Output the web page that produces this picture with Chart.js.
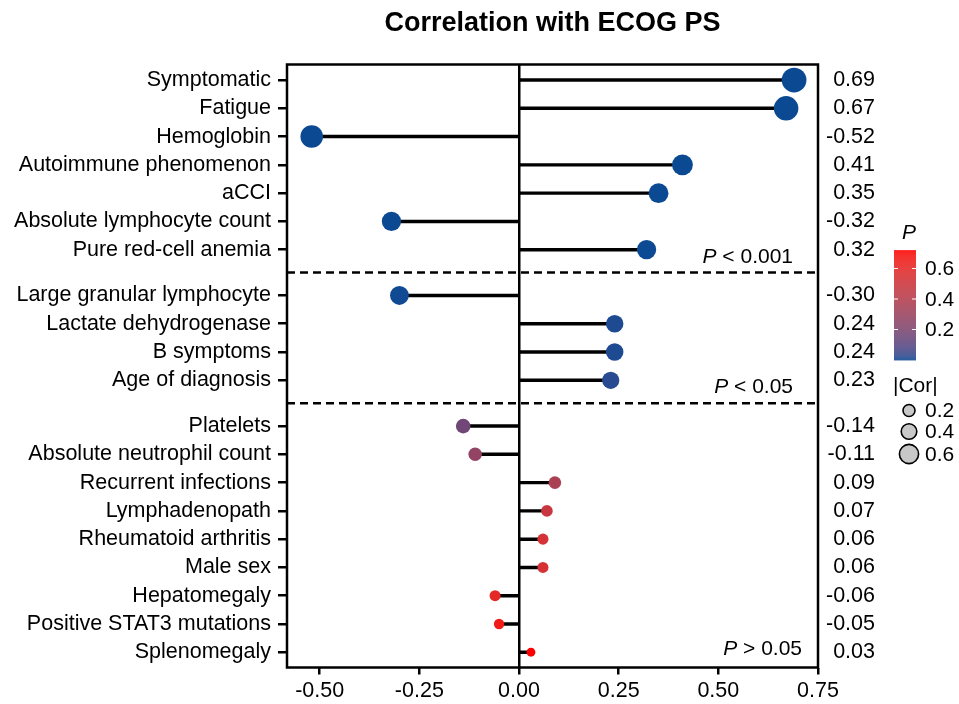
<!DOCTYPE html>
<html lang="en">
<head>
    <meta charset="UTF-8">
    <title>Correlation with ECOG PS</title>
    <style>
        body { margin: 0; padding: 0; background: #fff; }
        #wrap { width: 959px; height: 704px; position: relative; }
    </style>
    <script src="https://cdn.jsdelivr.net/npm/chart.js"></script>
</head>
<body>
    <div id="wrap"><canvas id="lollipop"></canvas></div>

    <script>
        // data
        const labels = [
            'Symptomatic', 'Fatigue', 'Hemoglobin', 'Autoimmune phenomenon', 'aCCI',
            'Absolute lymphocyte count', 'Pure red-cell anemia',
            'Large granular lymphocyte', 'Lactate dehydrogenase', 'B symptoms', 'Age of diagnosis',
            'Platelets', 'Absolute neutrophil count', 'Recurrent infections', 'Lymphadenopath',
            'Rheumatoid arthritis', 'Male sex', 'Hepatomegaly', 'Positive STAT3 mutations', 'Splenomegaly'
        ];
        const cors = [0.69, 0.67, -0.52, 0.41, 0.35, -0.32, 0.32,
                      -0.30, 0.24, 0.24, 0.23,
                      -0.14, -0.11, 0.09, 0.07, 0.06, 0.06, -0.06, -0.05, 0.03];
        const pvals = [0, 0, 0, 0, 0, 0, 0.0005,
                       0.002, 0.01, 0.01, 0.02,
                       0.16, 0.27, 0.36, 0.48, 0.53, 0.54, 0.60, 0.66, 0.72];
        const groups = [0, 0, 0, 0, 0, 0, 0, 1, 1, 1, 1, 2, 2, 2, 2, 2, 2, 2, 2, 2];
        const groupNames = ['< 0.001', '< 0.05', '> 0.05'];
        const xTicks = [-0.5, -0.25, 0, 0.25, 0.5, 0.75];
        const pTicks = [0.2, 0.4, 0.6];
        const corTicks = [0.2, 0.4, 0.6];

        const GROUP_GAP = 0.62;
        const FONT = "'Liberation Sans', Arial, sans-serif";
        const LOW = '#0b4a93', HIGH = '#ff0000';

        // row positions on the y scale, with a gap between significance groups
        const rowPos = labels.map((_, i) => i + groups[i] * GROUP_GAP);
        const pMax = Math.max(...pvals);

        // --- colour ramp in CIELAB (like ggplot's gradient) ---
        function hexToRgb(h) {
            return [1, 3, 5].map(k => parseInt(h.slice(k, k + 2), 16));
        }
        function toLab(rgb) {
            const l = rgb.map(c => { c /= 255; return c <= 0.04045 ? c / 12.92 : Math.pow((c + 0.055) / 1.055, 2.4); });
            const X = (0.4124 * l[0] + 0.3576 * l[1] + 0.1805 * l[2]) / 0.95047;
            const Y = 0.2126 * l[0] + 0.7152 * l[1] + 0.0722 * l[2];
            const Z = (0.0193 * l[0] + 0.1192 * l[1] + 0.9505 * l[2]) / 1.08883;
            const f = t => t > 0.008856 ? Math.cbrt(t) : 7.787 * t + 16 / 116;
            return [116 * f(Y) - 16, 500 * (f(X) - f(Y)), 200 * (f(Y) - f(Z))];
        }
        function fromLab(lab) {
            const fy = (lab[0] + 16) / 116, fx = fy + lab[1] / 500, fz = fy - lab[2] / 200;
            const inv = t => t * t * t > 0.008856 ? t * t * t : (t - 16 / 116) / 7.787;
            const X = inv(fx) * 0.95047, Y = inv(fy), Z = inv(fz) * 1.08883;
            const lin = [
                3.2406 * X - 1.5372 * Y - 0.4986 * Z,
                -0.9689 * X + 1.8758 * Y + 0.0415 * Z,
                0.0557 * X - 0.2040 * Y + 1.0570 * Z
            ];
            const rgb = lin.map(c => {
                c = c <= 0.0031308 ? 12.92 * c : 1.055 * Math.pow(c, 1 / 2.4) - 0.055;
                return Math.round(Math.min(1, Math.max(0, c)) * 255);
            });
            return `rgb(${rgb[0]}, ${rgb[1]}, ${rgb[2]})`;
        }
        const labLow = toLab(hexToRgb(LOW)), labHigh = toLab(hexToRgb(HIGH));
        function pColor(p) {
            const t = Math.min(1, Math.max(0, p / pMax));
            return fromLab(labLow.map((v, k) => v + (labHigh[k] - v) * t));
        }
        function dotRadius(c) {
            return 14 * Math.pow(Math.abs(c), 0.33);
        }

        const decor = {
            id: 'decor',
            beforeDatasetsDraw(chart) {
                const { ctx, chartArea: a, scales: { y } } = chart;
                ctx.save();
                ctx.strokeStyle = '#000';
                ctx.lineWidth = 2.5;
                ctx.setLineDash([8, 5]);
                for (let i = 1; i < labels.length; i++) {
                    if (groups[i] !== groups[i - 1]) {
                        const py = y.getPixelForValue((rowPos[i] + rowPos[i - 1]) / 2);
                        ctx.beginPath();
                        ctx.moveTo(a.left, py);
                        ctx.lineTo(a.right, py);
                        ctx.stroke();
                    }
                }
                ctx.restore();
            },
            afterDraw(chart) {
                const { ctx, chartArea: a, scales: { y } } = chart;
                ctx.save();
                // frame
                ctx.strokeStyle = '#000';
                ctx.lineWidth = 2.5;
                ctx.strokeRect(a.left, a.top, a.right - a.left, a.bottom - a.top);

                // title
                ctx.fillStyle = '#000';
                ctx.font = `bold 27px ${FONT}`;
                ctx.textAlign = 'center';
                ctx.textBaseline = 'middle';
                ctx.fillText('Correlation with ECOG PS', (a.left + a.right) / 2, 24);

                // group annotations (italic P)
                ctx.font = `21px ${FONT}`;
                ctx.textBaseline = 'middle';
                [0, 1, 2].forEach(g => {
                    const last = groups.lastIndexOf(g);
                    const right = g === 2 ? a.right - 16 : a.right - 25;
                    const py = y.getPixelForValue(rowPos[last] + (g === 2 ? -0.1 : 0.26));
                    const rest = ' ' + groupNames[g];
                    ctx.textAlign = 'right';
                    ctx.font = `21px ${FONT}`;
                    const w = ctx.measureText(rest).width;
                    ctx.fillText(rest, right, py);
                    ctx.font = `italic 21px ${FONT}`;
                    ctx.fillText('P', right - w, py);
                });

                // colour bar legend
                const bx = 894, bw = 22, bBottom = 360, pxPerUnit = 152.5;
                const bTop = bBottom - pMax * pxPerUnit;
                for (let py = bTop; py < bBottom; py += 1) {
                    ctx.fillStyle = pColor((bBottom - py - 0.5) / pxPerUnit);
                    ctx.fillRect(bx, py, bw, 1.2);
                }
                ctx.strokeStyle = '#fff';
                ctx.lineWidth = 1;
                ctx.fillStyle = '#000';
                ctx.textAlign = 'left';
                ctx.font = `21px ${FONT}`;
                pTicks.forEach(t => {
                    const py = bBottom - t * pxPerUnit;
                    ctx.beginPath();
                    ctx.moveTo(bx, py); ctx.lineTo(bx + 4, py);
                    ctx.moveTo(bx + bw - 4, py); ctx.lineTo(bx + bw, py);
                    ctx.stroke();
                    ctx.fillText(t.toFixed(1), 925, py + 1);
                });
                ctx.font = `italic 21px ${FONT}`;
                ctx.textAlign = 'center';
                ctx.fillText('P', bx + 15, 233);

                // size legend
                ctx.font = `21px ${FONT}`;
                ctx.textAlign = 'left';
                ctx.fillText('|Cor|', 893, 386);
                const cy = [410.5, 431.5, 454];
                corTicks.forEach((t, k) => {
                    ctx.beginPath();
                    ctx.arc(909, cy[k], 4.2 + 9 * t, 0, Math.PI * 2);
                    ctx.fillStyle = '#c8c8c8';
                    ctx.fill();
                    ctx.lineWidth = 1.6;
                    ctx.strokeStyle = '#000';
                    ctx.stroke();
                    ctx.fillStyle = '#000';
                    ctx.fillText(t.toFixed(1), 925, cy[k] + 1);
                });
                ctx.restore();
            }
        };

        const tickFont = { family: FONT, size: 21.5 };
        const rowTicks = axis => { axis.ticks = rowPos.map(v => ({ value: v })); };

        new Chart(document.getElementById('lollipop'), {
            type: 'scatter',
            data: {
                datasets: [{
                    type: 'scatter',
                    data: cors.map((c, i) => ({ x: c, y: rowPos[i] })),
                    pointRadius: ctx => dotRadius(cors[ctx.dataIndex]),
                    pointBackgroundColor: ctx => pColor(pvals[ctx.dataIndex]),
                    pointBorderWidth: 0,
                    order: 0
                }, {
                    type: 'bar',
                    indexAxis: 'y',
                    data: cors.map((c, i) => ({ y: rowPos[i], x: [0, c] })),
                    backgroundColor: '#000',
                    borderWidth: 0,
                    barThickness: 2.8,
                    order: 1
                }]
            },
            options: {
                responsive: true,
                maintainAspectRatio: false,
                animation: false,
                events: [],
                layout: { padding: { top: 64.5, right: 84, bottom: 0, left: 0 } },
                plugins: { legend: { display: false }, tooltip: { enabled: false }, title: { display: false } },
                scales: {
                    x: {
                        type: 'linear',
                        min: -0.582,
                        max: 0.75,
                        offset: false,
                        afterBuildTicks: axis => { axis.ticks = xTicks.map(v => ({ value: v })); },
                        afterFit: axis => { axis.height = 36.5; },
                        border: { display: false },
                        grid: {
                            drawOnChartArea: true,
                            color: ctx => (ctx.tick && ctx.tick.value === 0) ? '#000' : 'rgba(0,0,0,0)',
                            lineWidth: 2.5,
                            tickColor: '#000',
                            tickLength: 7,
                            offset: false
                        },
                        ticks: {
                            color: '#000',
                            font: tickFont,
                            padding: 4,
                            maxRotation: 0,
                            autoSkip: false,
                            callback: v => v.toFixed(2)
                        }
                    },
                    y: {
                        type: 'linear',
                        position: 'left',
                        reverse: true,
                        min: -0.55,
                        max: 20.78,
                        offset: false,
                        afterBuildTicks: rowTicks,
                        afterFit: axis => { axis.width = 287; },
                        border: { display: false },
                        grid: {
                            drawOnChartArea: false,
                            tickColor: '#000',
                            tickLength: 9,
                            lineWidth: 2.5,
                            offset: false
                        },
                        ticks: {
                            color: '#000',
                            font: tickFont,
                            padding: 7,
                            autoSkip: false,
                            callback: (v, i) => labels[i]
                        }
                    },
                    y2: {
                        type: 'linear',
                        position: 'right',
                        reverse: true,
                        min: -0.55,
                        max: 20.78,
                        offset: false,
                        afterBuildTicks: rowTicks,
                        afterFit: axis => { axis.width = 57; },
                        border: { display: false },
                        grid: { display: false, drawTicks: false },
                        ticks: {
                            color: '#000',
                            font: tickFont,
                            padding: 9,
                            crossAlign: 'far',
                            autoSkip: false,
                            callback: (v, i) => cors[i].toFixed(2)
                        }
                    }
                }
            },
            plugins: [decor]
        });
    </script>
</body>
</html>
